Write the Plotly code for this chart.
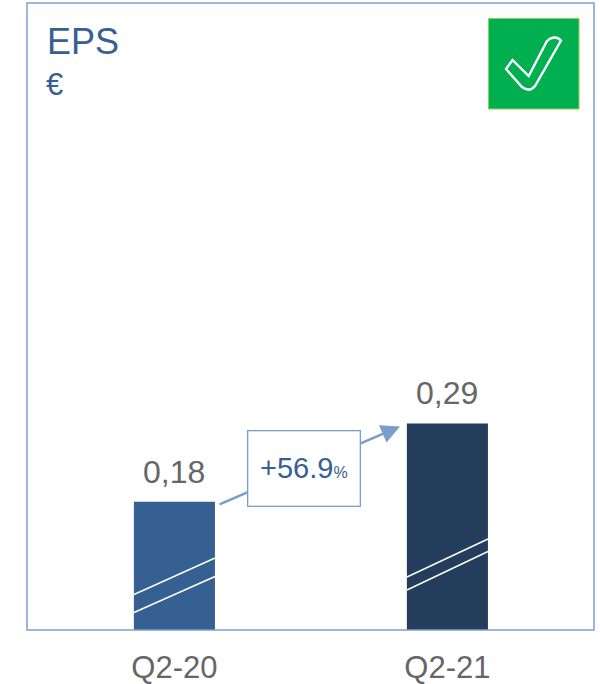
import plotly.graph_objects as go

categories = ["Q2-20", "Q2-21"]
eps_values = [0.18, 0.29]
value_labels = ["0,18", "0,29"]
bar_colors = ["#376092", "#253D5C"]
title_text = "EPS"
unit_text = "€"
growth_text = "+56.9<span style='font-size:16px'>%</span>"

W, H = 600, 684
L, R, T, B = 27, 6, 3, 54
FONT = "Liberation Sans"
GREY = "#666666"
BLUE = "#376092"
LINE = "#7C9CC9"


def px(x):
    return (x - L) / (W - L - R)


def py(y):
    return (H - B - y) / (H - T - B)


fig = go.Figure(go.Bar(
    x=[0, 1], y=eps_values, width=0.297,
    marker=dict(color=bar_colors, line=dict(width=0)),
    cliponaxis=False,
))


def seg(x0, y0, x1, y1, color="white", width=1.4):
    return dict(type="line", xref="paper", yref="paper", x0=px(x0), y0=py(y0),
                x1=px(x1), y1=py(y1), line=dict(color=color, width=width))


pts = [(506, 69), (512.5, 60), (528.7, 76), (547, 41)]
d = "M {} {} L {} {} L {} {} L {} {} ".format(*[v for p in pts for v in (px(p[0]), py(p[1]))])
d += "C {} {} {} {} {} {} ".format(px(551), py(37), px(557), py(36), px(561), py(40.5))
d += "L {} {} ".format(px(535), py(86))
d += "C {} {} {} {} {} {} ".format(px(531), py(91), px(526), py(90), px(522), py(87))
d += "Z"

shapes = [
    dict(type="rect", xref="paper", yref="paper", x0=0, y0=0, x1=1, y1=1,
         line=dict(color="#7F9FCB", width=1.5), fillcolor="rgba(0,0,0,0)"),
    dict(type="rect", xref="paper", yref="paper", x0=px(488.5), x1=px(579), y0=py(109), y1=py(18.5),
         line=dict(color="#92D050", width=1), fillcolor="#00B050"),
    dict(type="path", xref="paper", yref="paper", path=d, line=dict(color="white", width=2.4),
         fillcolor="rgba(0,0,0,0)"),
    seg(134, 594.5, 215, 558), seg(134, 612.5, 215, 576.5),
    seg(407, 577, 488, 539), seg(407, 590, 488, 551.5),
]

annotations = [
    dict(xref="paper", yref="paper", x=px(45), y=py(42), xanchor="left", yanchor="middle",
         text=title_text, showarrow=False, font=dict(family=FONT, size=36, color=BLUE)),
    dict(xref="paper", yref="paper", x=px(44), y=py(84), xanchor="left", yanchor="middle",
         text=unit_text, showarrow=False, font=dict(family=FONT, size=31, color=BLUE)),
    dict(xref="paper", yref="paper", axref="pixel", ayref="pixel", x=px(400), y=py(426.5),
         ax=218 - 400, ay=505 - 426.5, text="", showarrow=True, arrowhead=2, arrowsize=1.5,
         arrowwidth=2.5, arrowcolor=LINE, standoff=0),
    dict(xref="paper", yref="paper", x=px(304), y=py(468.5), xanchor="center", yanchor="middle",
         text=growth_text, showarrow=False, font=dict(family=FONT, size=29, color=BLUE),
         bgcolor="white", bordercolor=LINE, borderwidth=1.3, width=109, height=72, align="center"),
]
for i, (v, lab) in enumerate(zip(eps_values, value_labels)):
    annotations.append(dict(x=i, y=v, xref="x", yref="y", yanchor="bottom", yshift=10,
                            text=lab, showarrow=False,
                            font=dict(family=FONT, size=32, color=GREY)))

fig.update_layout(
    width=W, height=H, autosize=False, margin=dict(l=L, r=R, t=T, b=B),
    paper_bgcolor="white", plot_bgcolor="white", showlegend=False,
    shapes=shapes, annotations=annotations,
    xaxis=dict(tickmode="array", tickvals=[0, 1], ticktext=categories, range=[-0.54, 1.537],
               showgrid=False, zeroline=False, showline=False, ticks="outside", ticklen=10,
               tickcolor="rgba(0,0,0,0)", automargin=False,
               tickfont=dict(family=FONT, size=31, color=GREY)),
    yaxis=dict(range=[0, 0.88], visible=False, showgrid=False, zeroline=False),
)
fig.write_html("out.html", config={"displayModeBar": False},
               post_script="document.body.style.margin='0';document.documentElement.style.overflow='hidden';")
